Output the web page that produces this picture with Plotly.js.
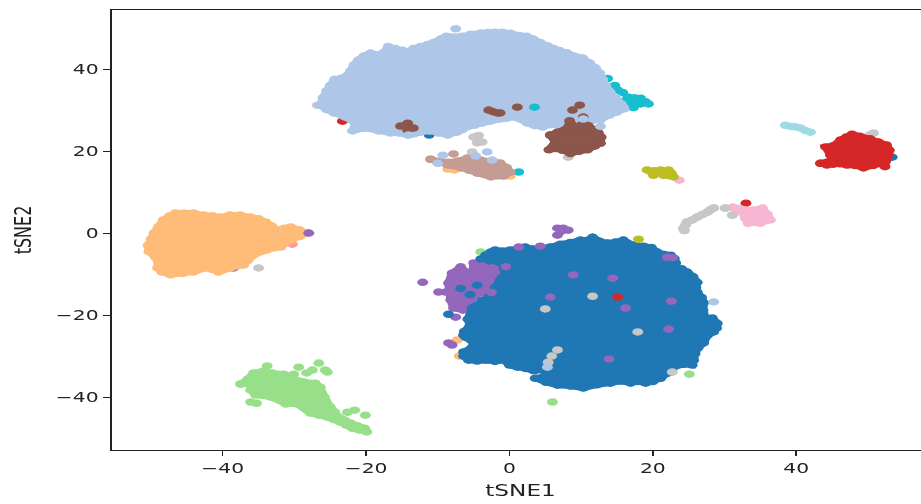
<!DOCTYPE html>
<html><head><meta charset="utf-8">
<script src="https://cdn.plot.ly/plotly-3.0.1.min.js"></script>
<style>
html,body{margin:0;padding:0;width:921px;height:504px;overflow:hidden;background:#fff}
#wrap{width:921px;height:504px;overflow:hidden}
#g{width:641px;height:504px;transform-origin:0 0;transform:scaleX(1.45);filter:blur(0.4px)}
</style></head><body><div id="wrap"><div id="g"></div></div>
<script>
const xTicks=[-40,-20,0,20,40];
const yTicks=[-40,-20,0,20,40];
const colors={blue:'#1f77b4',light:'#aec7e8',peach:'#ffbb78',green:'#98df8a',red:'#d62728',salmon:'#ff9896',purple:'#9467bd',brown:'#8c564b',tan:'#c49c94',pink:'#f7b6d2',grey:'#c7c7c7',olive:'#bcbd22',cyan:'#17becf',pale:'#9edae5'};

const lightBlob=[[-26.4,31.2],[-26,33],[-25.5,34.7],[-25,36],[-24.4,37.5],[-23.4,37.8],[-22.6,38.5],[-22.2,39.5],[-21.7,41],[-21.1,42.2],[-20.3,43.2],[-19.4,43.9],[-18.4,43.5],[-17.4,44.2],[-16.9,45.5],[-15.9,45],[-14.9,44.6],[-13.9,44],[-13.4,45],[-12.4,45.5],[-11.4,46],[-10.6,46.5],[-9.6,47.3],[-8.8,48],[-7.8,47.8],[-6.6,48],[-5.4,48.5],[-4,48.8],[-3,48.9],[-2,49],[-1,49],[0.2,48.7],[1.4,48.2],[2.4,48],[3.3,47.3],[4.3,46.5],[5.3,45.7],[6.2,45],[7,44.5],[8,44],[9,43.2],[10.2,42.7],[11.2,41.5],[12,40.3],[12.6,39],[13,37.5],[13.4,36],[14,34.5],[14.8,33],[15.6,31.5],[16,30.3],[15,29.5],[14,28.8],[12.7,27.6],[11.5,27.4],[10.3,27],[9,26.8],[7.8,26.5],[6.7,26.3],[5.6,26.4],[4.6,25.9],[3.5,26.2],[2.5,26.8],[1.5,27.8],[0.6,28.3],[-0.4,28],[-1.3,27.8],[-2.6,27.3],[-3.8,26.8],[-4.9,26.3],[-5.9,25.9],[-6.6,25.2],[-7.3,24.6],[-8.6,23.9],[-9.9,24.4],[-11.1,24.9],[-12.4,24.6],[-13.3,24.2],[-14.1,23.9],[-15.4,24.4],[-16.6,24.4],[-18.3,24.9],[-20.1,25.6],[-21.9,24.9],[-21.5,26.8],[-22.9,28.3],[-24.5,29.3],[-25.5,30.1]];
const lightDots=[[-7.5,49.8],[-9.3,19],[-10,17],[-3.1,19.8],[-4.7,18.8],[-2.4,17.8],[-14.1,23.9],[4.6,25.9],[10.3,27.8],[12.7,26],[15.9,30.7],[15.1,31],[28.5,-16.8],[5.3,-32.7]];

const brownMain=[[5.7,23.9],[6.7,24.6],[8.1,25.6],[8.4,27.4],[9.2,25.8],[10.3,26.8],[11,26.2],[11.7,25.3],[12.4,24.5],[12.8,23.4],[12.7,21.9],[11.9,21.2],[10.9,20.3],[9.7,19.9],[8.5,19.4],[7.4,20.2],[6.4,20.6],[5.5,20.3],[6.4,22.2]];
const brownBits=[[-2.9,30],[-2.3,29.6],[-1.7,29.3],[-1.3,29.3],[-15.2,26.1],[-14.6,26.2],[-14.2,26.8],[-13.4,25.6],[-14.2,25.1],[9.8,31.2],[8.8,30],[10.3,28.3],[1.1,30.7]];

const tanBlob=[[-11,18],[-9.6,17.5],[-8.6,17.3],[-7.2,17.6],[-5.9,18.3],[-5,17.6],[-4,17.8],[-2.6,17.5],[-1.3,17.1],[-0.4,16],[0.1,14.9],[-0.8,13.9],[-2.6,13.7],[-4.5,14.6],[-5.6,15.3],[-6.8,15.9],[-8.6,16.6]];
const tanDots=[[-7.8,19.3]];
const peachBlob=[[-50.4,-3],[-50,-1.5],[-49.6,0],[-49,1.5],[-48.3,3.2],[-47.4,4.2],[-46.6,4.9],[-45.4,4.9],[-44.1,4.9],[-42.6,4.4],[-41.4,4.2],[-40.4,3.9],[-39,4.4],[-37.6,4.4],[-36.1,3.9],[-35,3.5],[-34,2.7],[-33.2,1.8],[-32.4,0.7],[-31.4,1.2],[-30.5,1.5],[-29.3,0.8],[-28.2,0],[-29.2,-0.8],[-30.5,-1.7],[-31.9,-3.4],[-32.8,-3.6],[-33.8,-4.1],[-35.7,-5.4],[-36.5,-6.7],[-37.1,-7.8],[-38.9,-8.5],[-40.6,-9.5],[-41.6,-8.8],[-42.4,-8.5],[-44.1,-9.5],[-45.5,-9.8],[-47.3,-10.2],[-48.5,-9.5],[-49.1,-8.5],[-49,-7],[-49.4,-5.9],[-50.3,-4.5]];
const peachDots=[[-8.6,15.6],[-7.7,15.4],[0.1,13.9],[-7.3,-26.1],[-7,-30]];

const greenBlob=[[-37.5,-36.8],[-36.5,-35.6],[-35.7,-34.1],[-34.4,-33.7],[-33.1,-34.1],[-31.5,-34.4],[-30.3,-35.4],[-28.7,-36.3],[-27.1,-36.6],[-26.4,-37.6],[-25.8,-40],[-25,-42.4],[-24.4,-43.6],[-23.8,-44.9],[-23,-45.6],[-22.2,-46.3],[-21.2,-47],[-20.2,-47.6],[-19.9,-48.5],[-21,-48],[-21.9,-47.6],[-22.8,-46.8],[-23.6,-46.1],[-24.5,-45.5],[-25.4,-44.9],[-26.6,-44.4],[-27.8,-43.9],[-29.6,-41.7],[-31.2,-41.7],[-33.3,-40],[-35.4,-39.5],[-36.1,-38.3],[-36.1,-36.8]];
const greenDots=[[-33.8,-32.4],[-29.4,-32.7],[-28.3,-34.1],[-27.5,-33.4],[-26.6,-31.7],[-25.7,-33.4],[-25.4,-33.9],[-30.1,-34.4],[-36.1,-41.2],[-35.3,-41.5],[-22.6,-43.7],[-21.6,-43.2],[-20.1,-44.4],[-4,-4.6],[25.1,-34.4],[6,-41.2]];

const purpleBlob=[[-6.8,-8.3],[-5.2,-10.7],[-5,-7.3],[-3.5,-7],[-2,-7.8],[-0.6,-8.3],[-1.3,-12.7],[-2,-15.1],[-3.8,-14.4],[-5.4,-16.3],[-5.4,-18.3],[-6.5,-18.8],[-7.8,-18.3],[-8.2,-16.3],[-8.5,-12.2],[-8,-9.8]];
const purpleDots=[[-7.5,-20.5],[-12.1,-12],[-9.9,-14.4],[-8.9,-14.4],[-8,-27.3],[-8.5,-26.8],[-2,-30.5],[0.1,-22],[8.9,-10.2],[14.4,-11],[22.6,-16.6],[22.2,-23.4],[13.9,-30.7],[16.2,-18.3],[5.7,-15.6],[22,-5.9],[22.8,-6],[1.3,-3.4],[4.3,-3.2],[6.7,1.2],[7.5,1.2],[8.2,0.7],[7.2,0.4],[6.7,-0.5],[-28,0],[-38.5,-8.5],[-2,-9.5],[-0.5,-8.2],[-3,-11],[-2.5,-14.5]];

const blueBlob=[[-3.3,-5.4],[-2.6,-4.6],[-2,-4.1],[-1,-4.4],[0.1,-4.1],[1.2,-3.9],[2.2,-3.4],[3.3,-3.9],[4.3,-3.7],[5.7,-3.4],[7.1,-2.7],[8.5,-2.3],[9.9,-1.7],[10.8,-1.8],[11.6,-1],[12.6,-2],[13.7,-2.4],[14.8,-2.2],[15.9,-1.7],[17.2,-2.9],[18.7,-3.2],[19.8,-3.5],[20.6,-4.6],[21.6,-5.2],[22.5,-5.4],[23,-6.2],[23.2,-7.3],[22.8,-8.2],[24,-8.7],[24.8,-9.5],[25.6,-10.6],[26.2,-12],[26,-13.2],[26.2,-14.4],[26.8,-15.7],[27.1,-17],[27,-18.8],[27.3,-20.5],[28.3,-20.7],[29,-22],[28.9,-23.2],[28.5,-24.1],[27.6,-25],[27.1,-26.8],[26.3,-28],[25.9,-29.4],[25.7,-31],[25.5,-32.2],[24.3,-32],[22.9,-32.7],[22,-34.2],[21.1,-35.4],[20,-36.2],[19,-36.6],[17.9,-36.2],[16.9,-36.6],[15.5,-36.1],[14.1,-36.6],[12.2,-37],[10.3,-37.8],[8.5,-37.3],[6.7,-37.1],[5.1,-36.4],[3.6,-35.4],[4.8,-35],[5.3,-34],[4.7,-33.4],[3.4,-33.6],[2.2,-33],[1.1,-32.7],[0,-32.2],[-0.8,-31],[-2,-31.3],[-3.3,-31],[-4.5,-31.2],[-5.7,-31],[-6.4,-30],[-6.4,-29],[-5.3,-28],[-5,-26.8],[-6.1,-25.4],[-6.3,-24],[-5.5,-22.5],[-5.8,-21],[-5.2,-18.3],[-3.8,-16.5],[-2.6,-15.1],[-2,-13.3],[-1.3,-11.5],[-1,-9.5],[-0.8,-7.8],[-2,-6.8]];
const blueDots=[[-8.5,-19.8],[-6.4,-24.9],[-4,-6.3],[-2.8,-6.8],[-4.5,-12.7],[-5.5,-15],[-6.8,-13.5],[-11.2,23.9],[53.4,18.5]];

const redBlob=[[43.4,17],[44.3,17.3],[45,18],[44.8,19],[44.1,21],[45.2,21.3],[46.2,22.7],[47,23.4],[47.8,24.1],[48.9,23.6],[50.3,23],[51.5,22.2],[52.6,21.5],[53,20.2],[52.9,19],[52.5,17.5],[52.4,16.2],[51.6,17],[50.8,16.5],[49.4,15.9],[48.2,16.5],[47.1,16.6],[46.1,16.9],[45.2,16.8],[44.3,16.6]];
const redDots=[[-23.3,27.3],[33,7.3],[15.1,-15.6]];
const salmonDots=[[-30.3,-2.7]];
const pinkBlob=[[31.2,6.3],[32.1,6],[32.9,5.6],[34,5.6],[35.3,6.1],[36,4.6],[36.4,3.2],[35,2.4],[34.2,2.6],[33.3,2.4],[32.9,3.6],[32.6,4.9]];
const pinkDots=[[23.7,12.9]];
const greyDots=[[24.3,1.2],[24.4,0.6],[24.6,2],[24.8,2.7],[25.5,3.2],[26.2,3.9],[26.9,4.5],[27.6,5.1],[28,5.6],[28.5,6.1],[30.1,6.1],[31.1,4.4],[50.8,24.4],[50.2,23.9],[-5,23.4],[-4.3,23.8],[-3.8,22.2],[-4.5,22],[-5.2,19.8],[-25.7,33.2],[-26.8,31.2],[-25.9,31.2],[8.2,18.5],[-35,-8.5],[11.6,-15.4],[5,-18.5],[17.9,-24.1],[6.7,-28.5],[5.9,-30],[5.4,-31.5],[22.7,-33.9]];
const oliveDots=[[19.2,15.4],[19.7,15],[20.2,15.2],[21.1,15.4],[22.2,15.4],[22.6,14.6],[22.9,13.7],[20.1,14.1],[21.5,14.1],[22.3,14],[18,-1.5]];
const cyanDots=[[15.1,34.9],[15.8,34.3],[16.5,33.2],[17.4,33],[18.3,32.9],[19,32],[19.4,31.5],[18.3,31.5],[17.3,30.6],[16.2,31.5],[15.5,32],[14.7,36],[13.7,37.7],[16.5,32],[17.5,32],[3.5,30.7],[1.3,14.9]];
const paleDots=[[38.5,26.3],[39.2,26],[39.9,25.9],[40.6,25.6],[41.3,25],[42,24.6]];

const MS=7.5;
function dots(pts,c){return {type:'scatter',mode:'markers',x:pts.map(p=>p[0]),y:pts.map(p=>p[1]),marker:{color:c,size:MS,line:{width:0}},hoverinfo:'skip',showlegend:false};}
function blob(pts,c){return {type:'scatter',mode:'lines+markers',fill:'toself',fillcolor:c,x:pts.concat(pts.slice(0,1)).map(p=>p[0]),y:pts.concat(pts.slice(0,1)).map(p=>p[1]),line:{width:6,color:c,simplify:false},marker:{color:c,size:MS,line:{width:0}},hoverinfo:'skip',showlegend:false};}

const traces=[
 dots(redDots.slice(0,1),colors.red),
 dots(greyDots,colors.grey),
 dots(purpleDots.slice(25,26),colors.purple),
 dots(salmonDots,colors.salmon),
 blob(peachBlob,colors.peach),
 dots(purpleDots.slice(24,25),colors.purple),
 dots(peachDots,colors.peach),
 blob(greenBlob,colors.green),
 dots(greenDots,colors.green),
 blob(purpleBlob,colors.purple),
 dots(purpleDots.slice(0,8),colors.purple),
 blob(blueBlob,colors.blue),
 dots(blueDots,colors.blue),
 dots(purpleDots.slice(8,24),colors.purple),
 dots(purpleDots.slice(26),colors.purple),
 dots(greyDots.slice(24),colors.grey),
 dots(redDots.slice(1),colors.red),
 dots(cyanDots.slice(0,15),colors.cyan),
 blob(lightBlob,colors.light),
 dots(cyanDots.slice(15),colors.cyan),
 blob(brownMain,colors.brown),
 dots(brownBits,colors.brown),
 blob(tanBlob,colors.tan),
 dots(tanDots,colors.tan),
 dots(lightDots,colors.light),
 blob(redBlob,colors.red),
 dots(pinkDots,colors.pink),
 blob(pinkBlob,colors.pink),
 dots(greyDots.slice(0,12),colors.grey),
 dots(oliveDots,colors.olive),
 dots(paleDots,colors.pale)
];
const axisBase={showgrid:false,zeroline:false,showline:true,mirror:true,linecolor:'#222',linewidth:1.2,ticks:'outside',ticklen:5,tickwidth:1,tickcolor:'#222',tickfont:{family:'DejaVu Sans',size:14,color:'#222'}};
const layout={width:641,height:504,margin:{l:76.6,r:0,t:10,b:54},paper_bgcolor:'#fff',plot_bgcolor:'#fff',showlegend:false,
 xaxis:Object.assign({},axisBase,{range:[-55.5,58.6],tickmode:'array',tickvals:xTicks,title:{text:'tSNE1',font:{family:'DejaVu Sans',size:16,color:'#222'},standoff:9}}),
 yaxis:Object.assign({},axisBase,{range:[-52.9,54.4],tickmode:'array',tickvals:yTicks,title:{text:'tSNE2',font:{family:'DejaVu Sans',size:16,color:'#222'},standoff:12}})
};
Plotly.newPlot('g',traces,layout,{displayModeBar:false,staticPlot:true});
</script></body></html>
